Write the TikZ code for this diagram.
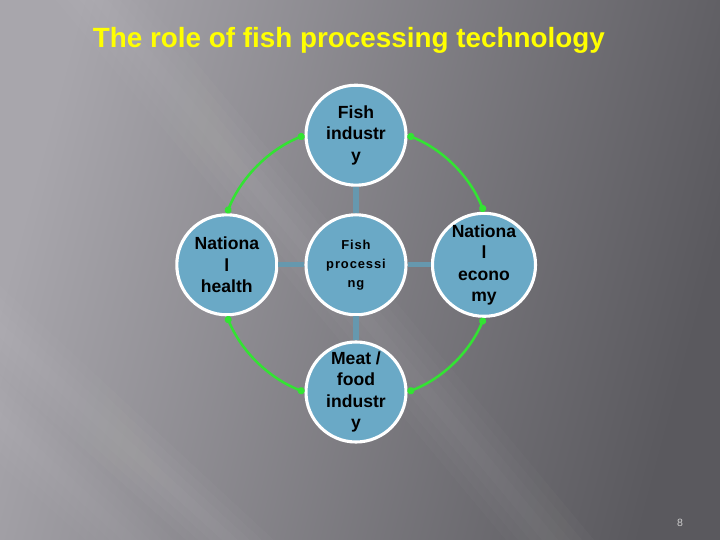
\documentclass[tikz,border=0pt]{standalone}
\usepackage{fontspec}
\setmainfont{Liberation Sans}
\setsansfont{Liberation Sans}
\usetikzlibrary{arrows.meta, positioning}
\definecolor{bgleft}{HTML}{A8A6AC}
\definecolor{bgmid}{HTML}{757379}
\definecolor{bgright}{HTML}{5A595E}
\definecolor{cnode}{HTML}{6AA9C6}
\definecolor{clink}{HTML}{6698AE}
\definecolor{cgreen}{HTML}{33E333}
\definecolor{cyell}{HTML}{FFFF00}
\tikzset{
  every picture/.style={font=\sffamily},
  circ/.style={circle, draw=white, fill=cnode, line width=2.2pt, minimum size=2.5cm, inner sep=0pt,
    align=center, font=\sffamily\bfseries\fontsize{12.5}{15.2}\selectfont},
  link/.style={draw=clink, line width=3.8pt},
  cycle/.style={{Circle[length=5pt]}-{Circle[length=5pt]}, draw=cgreen, line width=1.8pt, bend right=23, looseness=0.9},
  title/.style={font=\sffamily\bfseries\fontsize{19.8}{22}\selectfont, text=cyell},
}

\begin{document}
\begin{tikzpicture}
  % background
  \useasboundingbox (0,0) rectangle (18,13.5);
  \shade[left color=bgleft, middle color=bgmid, right color=bgright, shading angle=75] (0,0) rectangle (18,13.5);
  % soft light streaks
  \foreach \w in {0.2,0.5,0.8,1.1} {
    \fill[white, opacity=0.02] (2.5-\w,13.5) -- (2.5+\w,13.5) -- (13.75+\w,0) -- (13.75-\w,0) -- cycle;
    \fill[white, opacity=0.02] (0,5.25+\w) -- (0,5.25-\w) -- (5.75-\w,0) -- (5.75+\w,0) -- cycle;
    \fill[white, opacity=0.015] (0,3+\w) -- (0,3-\w) -- (3.25-\w,0) -- (3.25+\w,0) -- cycle;
  }
  \node[title] (head) at (8.72,12.5) {The role of fish processing technology};
  % nodes
  \node[circ, font=\sffamily\bfseries\fontsize{9.2}{13.5}\selectfont\addfontfeatures{LetterSpace=7}] (proc) at (8.9,6.88) {Fish\\processi\\ng};
  \node[circ] (fish) at (8.9,10.12) {Fish\\industr\\y};
  \node[circ] (meat) at (8.9,3.7) {Meat /\\food\\industr\\y};
  \node[circ] (health) at (5.67,6.88) {Nationa\\l\\health};
  \node[circ] (econ) at (12.1,6.88) {Nationa\\l\\econo\\my};
  % spokes
  \draw[link] (proc) -- (fish); \draw[link] (proc) -- (meat);
  \draw[link] (proc) -- (health); \draw[link] (proc) -- (econ);
  % outer ring
  \draw[cycle] (fish.west) to (health.north);
  \draw[cycle] (health.south) to (meat.west);
  \draw[cycle] (meat.east) to (econ.south);
  \draw[cycle] (econ.north) to (fish.east);
  \node[font=\sffamily\fontsize{7.5}{9}\selectfont, text=gray!40] (page) at (17.0,0.43) {8};
\end{tikzpicture}
\end{document}
